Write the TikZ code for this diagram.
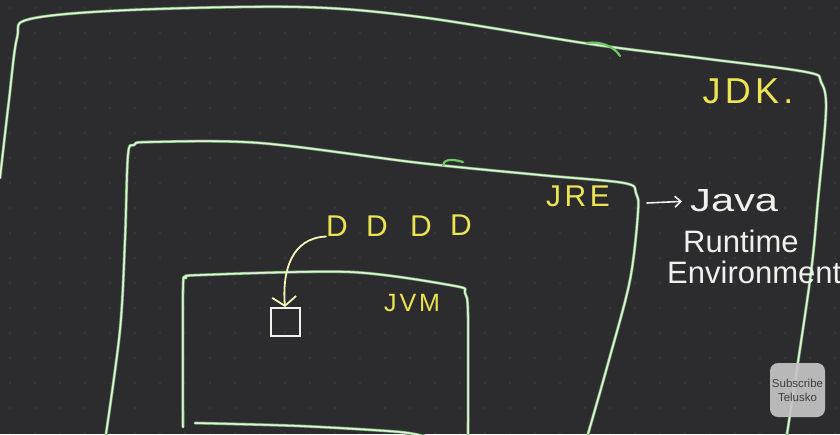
\documentclass[tikz,border=0pt]{standalone}
\usepackage{fontspec}
\setmainfont{Liberation Sans}
\usetikzlibrary{arrows.meta}
\definecolor{bg}{RGB}{44,44,46}
\definecolor{dotc}{RGB}{66,66,68}
\definecolor{pengreen}{RGB}{110,200,100}
\definecolor{pencore}{RGB}{232,238,228}
\definecolor{hand}{RGB}{236,228,82}
\definecolor{chalk}{RGB}{240,240,236}
\definecolor{btn}{RGB}{196,196,196}
\definecolor{btntext}{RGB}{62,62,62}
\tikzset{
  pen/.style={line width=3.4pt, draw=black!70, line cap=round, line join=round,
    postaction={draw=pengreen, line width=2.6pt},
    postaction={draw=pencore, line width=1.5pt}},
  hook/.style={line width=2.2pt, draw=pengreen, line cap=round},
  yellowtxt/.style={text=hand, inner sep=0pt, font=\fontsize{#1}{#1}\selectfont\addfontfeature{LetterSpace=12}},
  whitetxt/.style={text=chalk, inner sep=0pt, anchor=west, font=\fontsize{#1}{#1}\selectfont},
  chalkline/.style={draw=chalk, line width=1.6pt, line cap=round, line join=round},
  yline/.style={draw=hand!40!white, line width=1.8pt, line cap=round, line join=round}
}
\begin{document}
\begin{tikzpicture}[x=1pt,y=-1pt]
\useasboundingbox (0,0) rectangle (840,434);
\fill[bg] (0,0) rectangle (840,434);
% dot grid
\foreach \i in {0,...,33} {\foreach \j in {0,...,17} {
  \fill[dotc] ({10+25*\i},{8+25*\j}) circle (0.9);
}}
% JDK outline
\draw[pen] plot[smooth, tension=0.55] coordinates {(0,178) (9,100) (17,38) (30,19) (130,10) (300,7) (420,17) (590,44) (700,58) (806,72) (821,82) (826,110) (818,200) (810,280) (787,434)};
\draw[hook] (587,43) .. controls (600,41) and (614,46) .. (620,56);
% JRE outline
\draw[pen] plot[smooth, tension=0.55] coordinates {(106,434) (120,330) (125,240) (128,155) (134,145) (150,142) (260,143) (420,163) (540,175) (624,183) (636,193) (638,212) (630,280) (609,360) (588,434)};
\draw[hook] (443,166) .. controls (443,160) and (450,158) .. (463,162);
% JVM outline
\draw[pen] plot[smooth, tension=0.5] coordinates {(183,427) (183,290) (186,278) (200,275) (350,272) (455,286) (465,293) (468,315) (468,434)};
\draw[pen] plot[smooth, tension=0.5] coordinates {(195,423) (300,426) (400,432) (430,438)};
% labels
\node[yellowtxt=36] (jdk) at (748,91) {JDK.};
\node[yellowtxt=30] (jre) at (578,196) {JRE};
\node[yellowtxt=25] (jvm) at (412,303) {JVM};
\node[yellowtxt=30] (d1) at (337,226) {D};
\node[yellowtxt=30] (d2) at (377,226) {D};
\node[yellowtxt=30] (d3) at (421,226) {D};
\node[yellowtxt=30] (d4) at (461,225) {D};
% Java Runtime Environment
\node[whitetxt=32] (java) at (690,201) {\scalebox{1.3}[1]{Java}};
\node[whitetxt=31] (runtime) at (683,241) {Runtime};
\node[whitetxt=31] (env) at (667,272) {Environment};
\coordinate (arrstart) at (647,203);
\draw[chalkline, shorten >=8pt, -{Straight Barb[length=6pt,width=11pt]}] (arrstart) -- (java.west);
% class box and curved arrow
\node[draw=chalk, line width=2pt, minimum width=29pt, minimum height=28pt, inner sep=0pt] (cls) at (285,322) {};
\draw[yline, -{Straight Barb[length=9pt,width=24pt]}] (d1.south west) .. controls (292,238) and (282,270) .. (cls.north);
% subscribe button
\node[fill=btn, fill opacity=0.92, text opacity=1, rounded corners=8pt, minimum width=55pt, minimum height=54pt, inner sep=0pt, text=btntext, align=center, font=\fontsize{11.5}{14}\selectfont] (sub) at (797.5,390) {Subscribe\\Telusko};
\end{tikzpicture}
\end{document}
